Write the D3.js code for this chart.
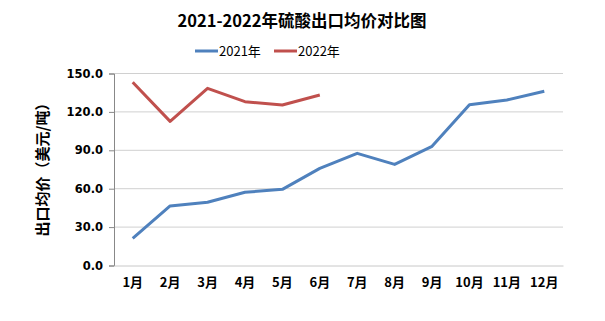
<!DOCTYPE html>
<html><head><meta charset="utf-8">
<script src="https://cdn.jsdelivr.net/npm/d3@7"></script>
<style>body{margin:0;background:#fff}svg{display:block}text{font-family:"Noto Sans CJK SC","DejaVu Sans",sans-serif}</style>
</head><body><svg id="c" width="605" height="321"></svg>
<script>
const months = ["1月","2月","3月","4月","5月","6月","7月","8月","9月","10月","11月","12月"];
const s2021 = [21.2,46.5,49.4,57.2,59.5,75.9,87.6,79.0,93.1,125.6,129.3,136.1];
const s2022 = [143.1,112.6,138.4,128.0,125.4,133.2];
const yTicks = [0,30,60,90,120,150];
const seriesNames = ["2021年","2022年"];
const colors = ["#4f81bd","#c0504d"];

const svg = d3.select("#c");
const L=114, R=563, T=73.5, B=265.5;
const x = d3.scaleBand().domain(months).range([L,R]);
const y = d3.scaleLinear().domain([0,150]).range([B,T]);

svg.append("text").attr("x",302).attr("y",27).attr("text-anchor","middle")
  .attr("font-size",16.5).attr("font-weight","bold").text("2021-2022年硫酸出口均价对比图");

// legend
const lg = [[195,seriesNames[0],colors[0]],[274,seriesNames[1],colors[1]]];
lg.forEach(([lx,t,c])=>{
  svg.append("line").attr("x1",lx).attr("x2",lx+23).attr("y1",51).attr("y2",51).attr("stroke",c).attr("stroke-width",3);
  svg.append("text").attr("x",lx+24).attr("y",56).attr("font-size",13).text(t);
});

// gridlines
svg.append("g").selectAll("line").data(yTicks.filter(d=>d>0)).join("line")
  .attr("x1",L).attr("x2",R).attr("y1",d=>y(d)).attr("y2",d=>y(d))
  .attr("stroke","#d0d0d0").attr("stroke-width",1);

// y axis
const ya = svg.append("g").attr("transform",`translate(${L},0)`)
  .call(d3.axisLeft(y).tickValues(yTicks).tickFormat(d3.format(".1f")).tickSize(5).tickPadding(6));
ya.select(".domain").attr("stroke","#888");
ya.selectAll(".tick line").attr("stroke","#888");
ya.selectAll("text").attr("font-size",11.5).attr("font-weight","bold").attr("fill","#000")
  .style("font-family","'DejaVu Sans',sans-serif");

// x axis
const xa = svg.append("g").attr("transform",`translate(0,${B})`)
  .call(d3.axisBottom(x).tickSize(0).tickPadding(12));
xa.select(".domain").attr("stroke","#c8c8c8");
xa.selectAll("text").attr("font-size",13).attr("font-weight","bold").attr("fill","#000");

// y label
svg.append("text").attr("transform","translate(48,166) rotate(-90)").attr("text-anchor","middle")
  .attr("font-size",15).attr("font-weight","bold").text("出口均价（美元/吨）");

const line = d3.line().x((d,i)=>x(months[i])+x.bandwidth()/2).y(d=>y(d));
[s2021,s2022].forEach((s,k)=>{
  svg.append("path").datum(s).attr("d",line).attr("fill","none")
    .attr("stroke",colors[k]).attr("stroke-width",3).attr("stroke-linejoin","round");
});
</script></body></html>
